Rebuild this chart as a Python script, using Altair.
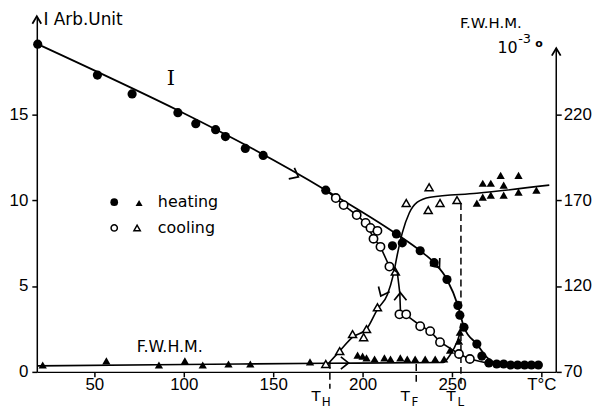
import altair as alt
import pandas as pd

# ---------------- axis ranges ----------------
T_MIN, T_MAX = 17.8, 308.3
I_MAX = 20.7
F_MIN, F_MAX = 70, 277
F_AXIS_TOP = 258.4

# ---------------- intensity, heating (filled circles) ----------------
heat_pts_T = [18.3, 51.7, 71.1, 96.7, 106.7, 117.8, 123.3, 134.4, 144.4, 179.4, 218.9, 216.7, 222.2,
              232.2, 240.0, 247.2, 253.3, 254.4, 256.7, 263.9, 266.7, 270.6, 275.0, 278.9, 282.8,
              286.7, 290.6, 294.4, 298.3]
heat_pts_I = [19.08, 17.28, 16.18, 15.09, 14.45, 14.10, 13.70, 13.01, 12.60, 10.58, 8.03, 7.34, 7.51,
              7.05, 6.36, 5.38, 3.87, 3.30, 2.60, 1.62, 0.92, 0.52, 0.46, 0.46, 0.40,
              0.40, 0.40, 0.40, 0.40]

# ---------------- intensity, cooling (open circles) ----------------
cool_pts_T = [185.0, 189.4, 196.7, 201.7, 204.4, 208.3, 206.1, 210.0, 215.0, 220.6, 224.4, 232.2,
              237.8, 243.3, 253.9, 260.0]
cool_pts_I = [10.12, 9.71, 9.13, 8.67, 8.38, 8.21, 7.75, 7.28, 6.13, 3.35, 3.35, 2.66,
              2.37, 1.73, 1.04, 0.75]

# ---------------- intensity curves ----------------
heat_line_T = [18.3, 179.4, 218.9, 232.2, 240.0, 247.2, 253.3, 256.7, 263.9, 270.0, 276.0, 299.0]
heat_line_I = [19.08, 10.58, 8.03, 7.05, 6.36, 5.38, 3.87, 2.60, 1.62, 0.80, 0.50, 0.40]

cool_line_T = [280.0, 270.0, 260.0, 253.9, 243.3, 237.8, 232.2, 224.4, 221.2, 220.8, 219.4, 215.0,
               210.0, 206.1, 201.7, 196.7, 189.4, 185.0, 179.4]
cool_line_I = [0.42, 0.50, 0.75, 1.04, 1.75, 2.37, 2.70, 3.30, 3.45, 4.60, 5.80, 6.13,
               7.28, 7.80, 8.67, 9.13, 9.71, 10.12, 10.58]

# ---------------- FWHM, heating (filled triangles) ----------------
heat_F_T = [21.1, 56.7, 86.1, 100.6, 110.6, 125.0, 137.2, 170.6, 197.2, 200.0, 202.2, 206.7, 212.2,
            215.6, 221.1, 225.0, 229.4, 235.0, 240.6, 245.6, 248.9, 253.9, 254.4, 263.9, 267.2,
            271.7, 267.2, 271.7, 277.2, 278.9, 278.9, 287.2, 287.2, 297.2]
heat_F = [74.0, 76.4, 74.0, 76.4, 74.0, 74.6, 74.6, 75.8, 79.8, 79.2, 78.1, 77.5, 78.1,
          77.5, 78.1, 77.5, 77.5, 77.5, 77.5, 77.5, 82.7, 87.9, 93.1, 168.3, 179.8,
          179.8, 171.7, 172.9, 184.4, 178.7, 172.9, 184.4, 174.6, 175.8]

# ---------------- FWHM, cooling (open triangles) ----------------
cool_F_T = [224.4, 237.2, 236.7, 243.3, 252.8, 218.3, 208.3, 202.2, 200.6, 194.4, 187.2, 179.4]
cool_F = [168.3, 177.5, 164.2, 168.3, 170.0, 128.4, 107.6, 94.9, 90.2, 92.0, 82.1, 74.6]

# ---------------- FWHM curves ----------------
heat_F_line_T = [18.3, 100.0, 180.0, 245.0, 249.0, 253.0, 255.5]
heat_F_line = [73.5, 74.3, 75.0, 75.5, 80.0, 88.0, 96.0]

cool_F_line_T = [304.4, 263.9, 237.8, 230.6, 226.1, 222.2, 219.4, 217.2, 213.9, 208.3, 202.2,
                 194.4, 187.2, 180.6]
cool_F_line = [178.7, 174.0, 171.7, 168.8, 162.5, 150.9, 138.2, 126.6, 115.1, 106.4, 94.9,
               90.2, 82.1, 74.6]

# ---------------- direction arrows ----------------
arrow_I_T = [162.2, 241.7, 221.1]
arrow_I_v = [11.45, 6.24, 4.39]
arrow_I_angle = [27, 53, 270]
arrow_F_T = [211.1, 190.0]
arrow_F_v = [116.2, 75.2]
arrow_F_angle = [115, 0]

# ---------------- transition temperatures ----------------
trans_T = [181.7, 230.0, 255.0]
trans_top = [75.8, 74.6, 168.3]
trans_bottom = [60.2, 63.1, 63.1]
trans_main_T = [173.9, 223.9, 249.4]
trans_sub_T = [179.6, 229.3, 254.9]
trans_sub = ["H", "F", "L"]

x_ticks = [50, 100, 150, 200, 250, 300]
I_ticks = [0, 5, 10, 15]
F_ticks = [70, 120, 170, 220]

FONT = "DejaVu Sans"
CHEVRON = "M-0.5,-0.8L0.5,0L-0.5,0.8"
TIP = "M-1,-0.6L0,0L-1,0.6"

xs = alt.Scale(domain=[T_MIN, T_MAX], nice=False, zero=False)
x_axis = alt.Axis(values=x_ticks, title=None, labelPadding=0,
                  labelExpr="datum.value == 300 ? 'T°C' : datum.label")
yI = alt.Scale(domain=[0, I_MAX], nice=False, zero=False)
yF = alt.Scale(domain=[F_MIN, F_MAX], nice=False, zero=False)
yI_axis = alt.Axis(values=I_ticks, title=None, labelPadding=4, orient="left")
yF_axis = alt.Axis(values=F_ticks, title=None, labelPadding=2, orient="right", domain=False)


def X(field="T"):
    return alt.X(f"{field}:Q", scale=xs, axis=x_axis)


def YI(field="v"):
    return alt.Y(f"{field}:Q", scale=yI, axis=yI_axis)


def YF(field="v"):
    return alt.Y(f"{field}:Q", scale=yF, axis=yF_axis)


def df(T, v, **extra):
    d = {"T": T, "v": v}
    d.update(extra)
    return pd.DataFrame(d)


# ---------------- intensity layers ----------------
heat_line = alt.Chart(df(heat_line_T, heat_line_I, o=list(range(len(heat_line_T))))).mark_line(
    color="black", strokeWidth=1.8, interpolate="monotone").encode(x=X(), y=YI(), order="o:Q")
cool_line = alt.Chart(df(cool_line_T, cool_line_I, o=list(range(len(cool_line_T))))).mark_line(
    color="black", strokeWidth=1.6).encode(x=X(), y=YI(), order="o:Q")
heat_pts = alt.Chart(df(heat_pts_T, heat_pts_I)).mark_point(
    shape="circle", filled=True, color="black", size=85, opacity=1).encode(x=X(), y=YI())
cool_pts = alt.Chart(df(cool_pts_T, cool_pts_I)).mark_point(
    shape="circle", filled=False, color="black", size=70, strokeWidth=1.6, fill="white",
    fillOpacity=1, opacity=1).encode(x=X(), y=YI())
arrows_I = alt.Chart(df(arrow_I_T, arrow_I_v, a=arrow_I_angle)).mark_point(
    shape=CHEVRON, filled=False, color="black", size=240, strokeWidth=1.7, opacity=1).encode(
    x=X(), y=YI(), angle=alt.Angle("a:Q", scale=None))
left_tip = alt.Chart(df([T_MIN], [I_MAX])).mark_point(
    shape=TIP, filled=False, color="black", size=220, strokeWidth=1.8, angle=270, opacity=1).encode(
    x=X(), y=YI())

texts_I = pd.DataFrame({
    "T": [92.8, 92.2, 85.5, 85.5],
    "v": [17.05, 1.45, 9.9, 8.38],
    "txt": ["I", "F.W.H.M.", "heating", "cooling"],
})
title_T = [21.5]
title_I = [20.2]
title_txt = ["I  Arb.Unit"]

lab_I_serif = alt.Chart(texts_I.iloc[[0]]).mark_text(
    font="DejaVu Serif", fontSize=21, color="black", baseline="middle").encode(
    x=X(), y=YI(), text="txt:N")
lab_fwhm = alt.Chart(texts_I.iloc[[1]]).mark_text(
    font=FONT, fontSize=16, color="black", baseline="middle").encode(x=X(), y=YI(), text="txt:N")
lab_legend = alt.Chart(texts_I.iloc[[2, 3]]).mark_text(
    font=FONT, fontSize=16, color="black", baseline="middle", align="left").encode(
    x=X(), y=YI(), text="txt:N")
lab_title = alt.Chart(df(title_T, title_I, txt=title_txt)).mark_text(
    font=FONT, fontSize=17, color="black", baseline="alphabetic", align="left").encode(
    x=X(), y=YI(), text="txt:N")

leg_fc = alt.Chart(df([61.1], [9.88])).mark_point(
    shape="circle", filled=True, color="black", size=60, opacity=1).encode(x=X(), y=YI())
leg_ft = alt.Chart(df([75.0], [9.83])).mark_point(
    shape="triangle-up", filled=True, color="black", size=50, opacity=1).encode(x=X(), y=YI())
leg_oc = alt.Chart(df([61.1], [8.38])).mark_point(
    shape="circle", filled=False, color="black", size=40, strokeWidth=1.5, opacity=1).encode(x=X(), y=YI())
leg_ot = alt.Chart(df([73.9], [8.38])).mark_point(
    shape="triangle-up", filled=False, color="black", size=40, strokeWidth=1.5, opacity=1).encode(x=X(), y=YI())

layer_I = alt.layer(heat_line, cool_line, heat_pts, cool_pts, arrows_I, left_tip,
                    lab_I_serif, lab_fwhm, lab_legend, lab_title, leg_fc, leg_ft, leg_oc, leg_ot)

# ---------------- FWHM layers ----------------
heat_F_ln = alt.Chart(df(heat_F_line_T, heat_F_line)).mark_line(
    color="black", strokeWidth=1.6, interpolate="monotone").encode(x=X(), y=YF())
cool_F_ln = alt.Chart(df(cool_F_line_T, cool_F_line, o=list(range(len(cool_F_line_T))))).mark_line(
    color="black", strokeWidth=1.6, interpolate="monotone").encode(x=X(), y=YF(), order="o:Q")
heat_F_pts = alt.Chart(df(heat_F_T, heat_F)).mark_point(
    shape="triangle-up", filled=True, color="black", size=70, opacity=1).encode(x=X(), y=YF())
cool_F_pts = alt.Chart(df(cool_F_T, cool_F)).mark_point(
    shape="triangle-up", filled=False, color="black", size=65, strokeWidth=1.5, fill="white",
    fillOpacity=1, opacity=1).encode(x=X(), y=YF())
arrows_F = alt.Chart(df(arrow_F_T, arrow_F_v, a=arrow_F_angle)).mark_point(
    shape=CHEVRON, filled=False, color="black", size=240, strokeWidth=1.7, opacity=1).encode(
    x=X(), y=YF(), angle=alt.Angle("a:Q", scale=None))
trans_rules = alt.Chart(df(trans_T, trans_top, b=trans_bottom)).mark_rule(
    color="black", strokeWidth=1.5, strokeDash=[7, 4]).encode(x=X(), y=YF(), y2="b:Q")
right_axis = alt.Chart(df([T_MAX], [F_MIN], b=[F_AXIS_TOP])).mark_rule(
    color="black", strokeWidth=1.5).encode(x=X(), y=YF(), y2="b:Q")
right_tip = alt.Chart(df([T_MAX], [F_AXIS_TOP])).mark_point(
    shape=TIP, filled=False, color="black", size=220, strokeWidth=1.8, angle=270, opacity=1).encode(
    x=X(), y=YF())
trans_main = alt.Chart(df(trans_main_T, [55.9, 55.9, 55.9], txt=["T", "T", "T"])).mark_text(
    font=FONT, fontSize=15, color="black", baseline="middle").encode(x=X(), y=YF(), text="txt:N")
trans_subs = alt.Chart(df(trans_sub_T, [52.6, 52.4, 52.6], txt=trans_sub)).mark_text(
    font=FONT, fontSize=12, color="black", baseline="middle").encode(x=X(), y=YF(), text="txt:N")

texts_F = pd.DataFrame({
    "T": [271.7, 281.1, 290.6, 298.6],
    "v": [272.9, 258.4, 263.6, 260.6],
    "txt": ["F.W.H.M.", "10", "-3", "o"],
})
lab_F1 = alt.Chart(texts_F.iloc[[0]]).mark_text(
    font=FONT, fontSize=15, color="black", baseline="middle").encode(x=X(), y=YF(), text="txt:N")
lab_F2 = alt.Chart(texts_F.iloc[[1]]).mark_text(
    font=FONT, fontSize=16, color="black", baseline="middle").encode(x=X(), y=YF(), text="txt:N")
lab_F3 = alt.Chart(texts_F.iloc[[2]]).mark_text(
    font=FONT, fontSize=13, color="black", baseline="middle").encode(x=X(), y=YF(), text="txt:N")
lab_F4 = alt.Chart(texts_F.iloc[[3]]).mark_text(
    font=FONT, fontSize=11, color="black", baseline="middle", fontWeight="bold").encode(
    x=X(), y=YF(), text="txt:N")

layer_F = alt.layer(trans_rules, heat_F_ln, cool_F_ln, heat_F_pts, cool_F_pts, arrows_F,
                    right_axis, right_tip, trans_main, trans_subs, lab_F1, lab_F2, lab_F3, lab_F4)

chart = alt.layer(layer_F, layer_I).resolve_scale(y="independent").properties(
    width=523, height=358,
    autosize=alt.AutoSizeParams(type="none"),
    padding={"left": 29, "top": 7, "right": 36, "bottom": 35},
    background="white",
).configure_view(stroke=None).configure_axis(
    grid=False, domainColor="black", domainWidth=1.5, tickColor="black", tickWidth=1.5,
    tickSize=5, labelFont="Liberation Sans", labelFontSize=17, labelColor="black",
)

chart.save("out.html", embed_options={"renderer": "svg", "actions": False})
